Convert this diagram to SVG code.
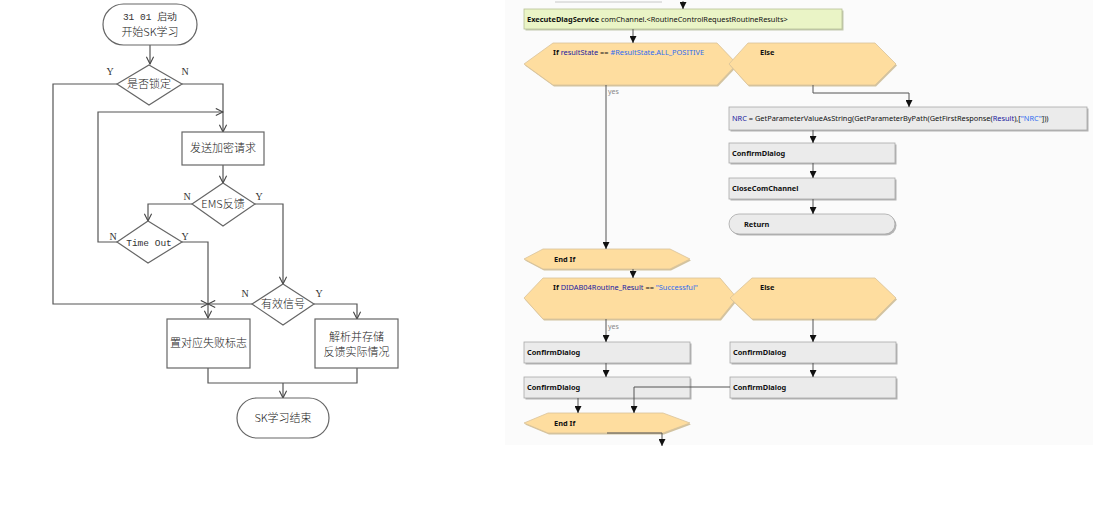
<svg xmlns="http://www.w3.org/2000/svg" width="1093" height="520" viewBox="0 0 1093 520">
<defs>
<marker id="v" viewBox="0 0 10 10" refX="9" refY="5" markerWidth="9" markerHeight="9" markerUnits="userSpaceOnUse" orient="auto">
<path d="M1,1 L9,5 L1,9" fill="none" stroke="#444" stroke-width="1.2"/>
</marker>
<marker id="t" viewBox="0 0 8 8" refX="8" refY="4" markerWidth="7" markerHeight="7" markerUnits="userSpaceOnUse" orient="auto">
<path d="M0,0 L8,4 L0,8 z" fill="#111"/>
</marker>
<style>
.ln{fill:none;stroke:#555;stroke-width:1.2}
.sh{fill:#fff;stroke:#666;stroke-width:1.2}
.cn{font-family:"Noto Sans CJK SC","Noto Sans",sans-serif;font-size:11px;font-weight:300;fill:#222;text-anchor:middle}
.yn{font-family:"Liberation Serif",serif;font-size:10px;fill:#333;text-anchor:middle}
.mono{font-family:"Liberation Mono",monospace;font-size:9.5px;fill:#333;text-anchor:middle}
.rl{fill:none;stroke:#555;stroke-width:1}
.hx{fill:#fedd9f;stroke:#d9c39a;stroke-width:0.8}
.hs{fill:#d2c3a0}
.bx{fill:#ebebeb;stroke:#a8a8a8;stroke-width:0.8}
.bs{fill:#b4b4b4}
.tx{font-family:"Noto Sans",sans-serif;font-size:7.4px;fill:#111}
.b{font-weight:bold}
.db{fill:#2020a0}
.lb{fill:#2f6cf0}
.gy{font-family:"Noto Sans",sans-serif;font-size:7px;fill:#888}
</style>
</defs>
<rect x="0" y="0" width="1093" height="520" fill="#fff"/>
<rect x="505" y="0" width="588" height="445" fill="#fbfbfb"/>

<!-- LEFT FLOWCHART -->
<g id="connectors-left">
<path class="ln" d="M150,45 V64" marker-end="url(#v)"/>
<path class="ln" d="M117,84 H53 V304 H208" marker-end="url(#v)"/>
<path class="ln" d="M182,84 H223 V132" marker-end="url(#v)"/>
<path class="ln" d="M117,242 H98 V112 H223" marker-end="url(#v)"/>
<path class="ln" d="M223,165 V183" marker-end="url(#v)"/>
<path class="ln" d="M192,204 H148 V221" marker-end="url(#v)"/>
<path class="ln" d="M255,204 H283 V284" marker-end="url(#v)"/>
<path class="ln" d="M182,242 H208 V318" marker-end="url(#v)"/>
<path class="ln" d="M252,304 H208" marker-end="url(#v)"/>
<path class="ln" d="M314,304 H357 V319" marker-end="url(#v)"/>
<path class="ln" d="M208,368 V383 H357 V368"/>
<path class="ln" d="M283,383 V398" marker-end="url(#v)"/>
</g>
<g id="labels-left">
<text class="yn" x="110" y="75">Y</text>
<text class="yn" x="185" y="75">N</text>
<text class="yn" x="187" y="200">N</text>
<text class="yn" x="259" y="200">Y</text>
<text class="yn" x="113" y="240">N</text>
<text class="yn" x="185" y="240">Y</text>
<text class="yn" x="245" y="297">N</text>
<text class="yn" x="319" y="297">Y</text>
</g>
<g id="start">
<rect class="sh" x="103" y="4" width="94" height="41" rx="20.5"/>
<text class="mono" x="150" y="20" font-size="9">31 01 启动</text>
<text class="cn" x="150" y="35.5">开始SK学习</text>
</g>
<g id="locked">
<polygon class="sh" points="149,65 182,84 149,105 117,84"/>
<text class="cn" x="149" y="88">是否锁定</text>
</g>
<g id="send">
<rect class="sh" x="182" y="132" width="82" height="33"/>
<text class="cn" x="223" y="152">发送加密请求</text>
</g>
<g id="ems">
<polygon class="sh" points="223,183 255,204 223,226 192,204"/>
<text class="cn" x="223" y="208">EMS反馈</text>
</g>
<g id="timeout">
<polygon class="sh" points="148,221 182,242 148,263 117,242"/>
<text class="mono" x="149" y="245.5">Time Out</text>
</g>
<g id="valid">
<polygon class="sh" points="283,284 314,304 283,325 252,304"/>
<text class="cn" x="283" y="308">有效信号</text>
</g>
<g id="fail">
<rect class="sh" x="167" y="319" width="83" height="49"/>
<text class="cn" x="208.5" y="347">置对应失败标志</text>
</g>
<g id="parse">
<rect class="sh" x="315" y="319" width="83" height="49"/>
<text class="cn" x="356.5" y="340.5">解析并存储</text>
<text class="cn" x="356.5" y="355.5">反馈实际情况</text>
</g>
<g id="end">
<rect class="sh" x="237" y="398" width="92" height="40" rx="20"/>
<text class="cn" x="283" y="422">SK学习结束</text>
</g>

<!-- RIGHT FLOW -->
<g id="exec">
<rect x="525.5" y="10.5" width="318" height="20" fill="#c4c9b0"/>
<rect x="524" y="9" width="318" height="20" fill="#eaf4c6" stroke="#b7c196" stroke-width="0.8"/>
<text class="tx" x="527" y="21.5"><tspan class="b">ExecuteDiagService</tspan> comChannel.&lt;RoutineControlRequestRoutineResults&gt;</text>
</g>
<g id="if1">
<polygon class="hs" points="525,65.5 554,44.5 718,44.5 738,65.5 718,86.5 554,86.5"/>
<polygon class="hx" points="524,64 553,43 717,43 737,64 717,85 553,85"/>
<text class="tx" x="553" y="55"><tspan class="b">If</tspan> <tspan class="db">resultState</tspan> == <tspan class="lb">#ResultState.ALL_POSITIVE</tspan></text>
</g>
<g id="else1">
<polygon class="hs" points="730,65.5 749,44.5 876,44.5 897,65.5 876,86.5 749,86.5"/>
<polygon class="hx" points="729,64 748,43 875,43 896,64 875,85 748,85"/>
<text class="tx b" x="760" y="55">Else</text>
</g>
<g id="nrc">
<rect class="bs" x="730.5" y="108.5" width="358" height="23"/>
<rect class="bx" x="729" y="107" width="358" height="23"/>
<text class="tx" x="732" y="120.5"><tspan class="db">NRC</tspan> = GetParameterValueAsString(GetParameterByPath(GetFirstResponse(<tspan class="db">Result</tspan>),[<tspan class="lb">"NRC"</tspan>]))</text>
</g>
<g id="confirm1">
<rect class="bs" x="730.5" y="144.5" width="166" height="20"/>
<rect class="bx" x="729" y="143" width="166" height="20"/>
<text class="tx b" x="732" y="155.5">ConfirmDialog</text>
</g>
<g id="close">
<rect class="bs" x="730.5" y="179.5" width="166" height="21"/>
<rect class="bx" x="729" y="178" width="166" height="21"/>
<text class="tx b" x="732" y="191">CloseComChannel</text>
</g>
<g id="return">
<rect class="bs" x="730.5" y="215.5" width="166" height="20" rx="10"/>
<rect class="bx" x="729" y="214" width="166" height="20" rx="10"/>
<text class="tx b" x="744" y="226.5">Return</text>
</g>
<g id="endif1">
<polygon class="hs" points="525,260.5 544,250.5 671,250.5 691,260.5 671,270.5 544,270.5"/>
<polygon class="hx" points="524,259 543,249 670,249 690,259 670,269 543,269"/>
<text class="tx b" x="554" y="261.5">End If</text>
</g>
<g id="if2">
<polygon class="hs" points="525,299.5 544,279.5 721,279.5 738,299.5 721,320.5 544,320.5"/>
<polygon class="hx" points="524,298 543,278 720,278 737,298 720,319 543,319"/>
<text class="tx" x="553" y="290"><tspan class="b">If</tspan> <tspan class="db">DIDAB04Routine_Result</tspan> == <tspan class="lb">"Successful"</tspan></text>
</g>
<g id="else2">
<polygon class="hs" points="731,299.5 753,279.5 876,279.5 897,299.5 876,320.5 753,320.5"/>
<polygon class="hx" points="730,298 752,278 875,278 896,298 875,319 752,319"/>
<text class="tx b" x="760" y="290">Else</text>
</g>
<g id="confirm2">
<rect class="bs" x="525.5" y="343.5" width="166" height="21"/>
<rect class="bx" x="524" y="342" width="166" height="21"/>
<text class="tx b" x="527" y="354.5">ConfirmDialog</text>
</g>
<g id="confirm3">
<rect class="bs" x="525.5" y="378.5" width="166" height="21"/>
<rect class="bx" x="524" y="377" width="166" height="21"/>
<text class="tx b" x="527" y="389.5">ConfirmDialog</text>
</g>
<g id="confirm4">
<rect class="bs" x="731.5" y="343.5" width="166" height="21"/>
<rect class="bx" x="730" y="342" width="166" height="21"/>
<text class="tx b" x="733" y="354.5">ConfirmDialog</text>
</g>
<g id="confirm5">
<rect class="bs" x="731.5" y="378.5" width="166" height="21"/>
<rect class="bx" x="730" y="377" width="166" height="21"/>
<text class="tx b" x="733" y="389.5">ConfirmDialog</text>
</g>
<g id="endif2">
<polygon class="hs" points="525,424.5 549,414.5 664,414.5 691,424.5 664,434.5 549,434.5"/>
<polygon class="hx" points="524,423 548,413 663,413 690,423 663,433 548,433"/>
<text class="tx b" x="554" y="425.5">End If</text>
</g>
<g id="connectors-right">
<path d="M555,2 H662" stroke="#c8c8c8" stroke-width="1" fill="none"/>
<path class="rl" d="M683,1 V9" marker-end="url(#t)"/>
<path class="rl" d="M633,29 V43" marker-end="url(#t)"/>
<path class="rl" d="M606,85 V249" marker-end="url(#t)"/>
<path class="rl" d="M813,85 V93 H909 V107" marker-end="url(#t)"/>
<path class="rl" d="M813,130 V143" marker-end="url(#t)"/>
<path class="rl" d="M813,163 V178" marker-end="url(#t)"/>
<path class="rl" d="M813,199 V214" marker-end="url(#t)"/>
<path class="rl" d="M633,269 V278" marker-end="url(#t)"/>
<path class="rl" d="M606,319 V342" marker-end="url(#t)"/>
<path class="rl" d="M813,319 V342" marker-end="url(#t)"/>
<path class="rl" d="M606,363 V377" marker-end="url(#t)"/>
<path class="rl" d="M813,363 V377" marker-end="url(#t)"/>
<path class="rl" d="M578,398 V413" marker-end="url(#t)"/>
<path class="rl" d="M730,387 H634 V413" marker-end="url(#t)"/>
<path class="rl" d="M607,433 H662 V446" marker-end="url(#t)"/>
<text class="gy" x="608" y="94">yes</text>
<text class="gy" x="608" y="329">yes</text>
</g>
</svg>
